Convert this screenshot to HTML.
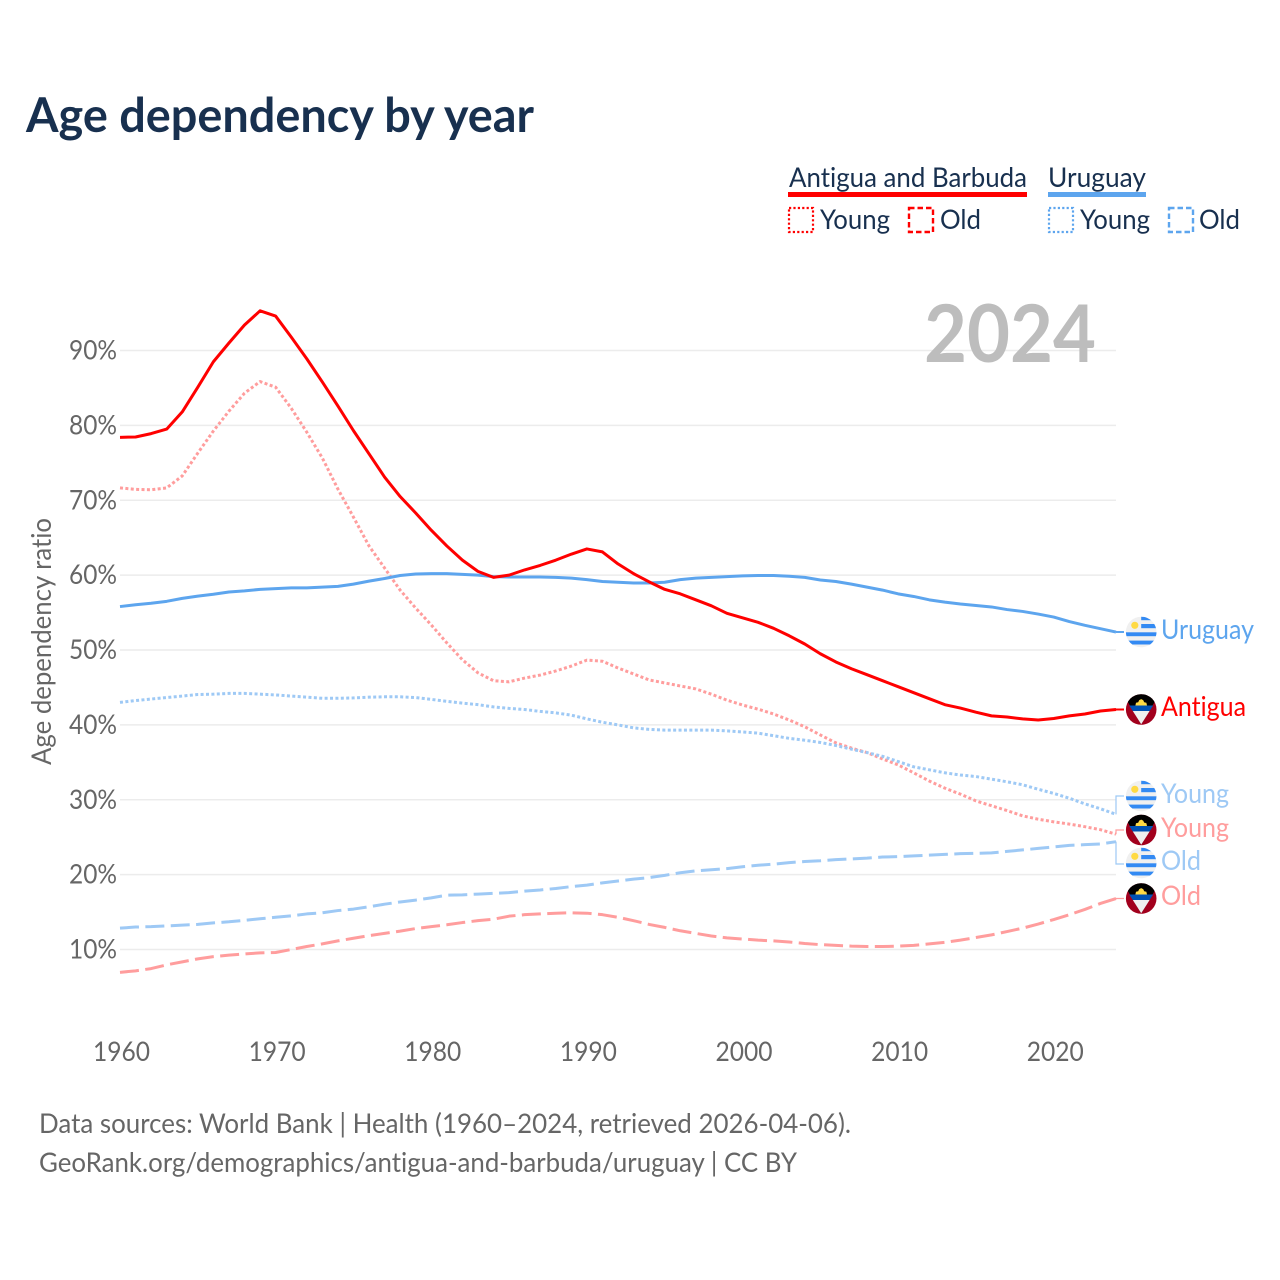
<!DOCTYPE html>
<html lang="en">
<head>
<meta charset="utf-8">
<title>Age dependency by year</title>
<style>
html,body{margin:0;padding:0;background:#fff}
svg{display:block}
text{font-family:"Lato","Carlito","Liberation Sans",sans-serif;font-variant-ligatures:none}
</style>
</head>
<body>
<svg id="chart" xmlns="http://www.w3.org/2000/svg" width="1280" height="1280" viewBox="0 0 1280 1280">
<defs>
<clipPath id="flag-clip"><circle cx="0" cy="0" r="15.3"/></clipPath>
<g id="flag-uy" clip-path="url(#flag-clip)">
<rect x="-16" y="-16" width="32" height="32" fill="#f0f0f0"/>
<rect x="0" y="-15.5" width="16" height="3.7" fill="#338af3"/>
<rect x="0" y="-8" width="16" height="4.2" fill="#338af3"/>
<rect x="-16" y="0.3" width="32" height="3.9" fill="#338af3"/>
<rect x="-16" y="8.6" width="32" height="3.9" fill="#338af3"/>
<circle cx="-6.4" cy="-6.7" r="3.6" fill="#ffda44"/>
</g>
<g id="flag-ag" clip-path="url(#flag-clip)">
<rect x="-16" y="-16" width="32" height="32" fill="#a2001d"/>
<polygon points="-16,-16 16,-16 16,-12 15.5,-11 0,14.8 -15.5,-11 -16,-12" fill="#000"/>
<polygon points="-12,-4 12,-4 8.4,1.5 -8.4,1.5" fill="#0052b4"/>
<polygon points="-8.4,1.5 8.4,1.5 0,14.8" fill="#f0f0f0"/>
<polygon points="-5.8,-4 -5.2,-6.8 -3,-7.2 -2,-9.4 0,-10.4 2,-9.4 3,-7.2 5.2,-6.8 5.8,-4" fill="#ffda44"/>
</g>
</defs>

<text x="26" y="132" font-size="48" font-weight="700" fill="#18304f" textLength="508" lengthAdjust="spacingAndGlyphs">Age dependency by year</text>

<g fill="#18304f" font-size="27">
<text x="789" y="187" textLength="238" lengthAdjust="spacingAndGlyphs">Antigua and Barbuda</text>
<rect x="788" y="192" width="239" height="5" fill="#ff0000"/>
<text x="1048" y="187" textLength="98" lengthAdjust="spacingAndGlyphs">Uruguay</text>
<rect x="1048" y="192" width="98" height="5" fill="#5da5ee"/>
<rect x="789" y="208" width="24" height="24" fill="none" stroke="#ff0000" stroke-width="2.2" stroke-dasharray="2.2 2.2"/>
<text x="820" y="229" textLength="70" lengthAdjust="spacingAndGlyphs">Young</text>
<rect x="909" y="208" width="24" height="24" fill="none" stroke="#ff0000" stroke-width="2.4" stroke-dasharray="5.5 3"/>
<text x="940" y="229" textLength="41" lengthAdjust="spacingAndGlyphs">Old</text>
<rect x="1049" y="208" width="24" height="24" fill="none" stroke="#5da5ee" stroke-width="2.2" stroke-dasharray="2.2 2.2"/>
<text x="1080" y="229" textLength="70" lengthAdjust="spacingAndGlyphs">Young</text>
<rect x="1169" y="208" width="24" height="24" fill="none" stroke="#5da5ee" stroke-width="2.4" stroke-dasharray="5.5 3"/>
<text x="1199" y="229" textLength="41" lengthAdjust="spacingAndGlyphs">Old</text>
</g>

<text transform="translate(51,765) rotate(-90)" font-size="27" fill="#666" textLength="247" lengthAdjust="spacingAndGlyphs">Age dependency ratio</text>

<g id="grid"></g>
<text x="924" y="362" font-size="80" font-weight="700" fill="#bdbdbd" textLength="172" lengthAdjust="spacingAndGlyphs">2024</text>
<g id="y-ticks"></g>
<g id="x-ticks"></g>
<g id="connectors"></g>
<g id="series"></g>

<g font-size="27">
<use href="#flag-uy" x="1141.2" y="632"/>
<text x="1161" y="639" fill="#5da5ee" textLength="93" lengthAdjust="spacingAndGlyphs">Uruguay</text>
<use href="#flag-ag" x="1141.2" y="709.5"/>
<text x="1161" y="716" fill="#ff0000" textLength="85" lengthAdjust="spacingAndGlyphs">Antigua</text>
<use href="#flag-uy" x="1141.2" y="796"/>
<text x="1161" y="803" fill="#9ec9f5" textLength="68" lengthAdjust="spacingAndGlyphs">Young</text>
<use href="#flag-ag" x="1141.2" y="830"/>
<text x="1161" y="837" fill="#ff9d9d" textLength="68" lengthAdjust="spacingAndGlyphs">Young</text>
<use href="#flag-uy" x="1141.2" y="863"/>
<text x="1161" y="870" fill="#9ec9f5" textLength="40" lengthAdjust="spacingAndGlyphs">Old</text>
<use href="#flag-ag" x="1141.2" y="898.5"/>
<text x="1161" y="905" fill="#ff9d9d" textLength="40" lengthAdjust="spacingAndGlyphs">Old</text>
</g>

<g font-size="27" fill="#666">
<text x="39" y="1133" textLength="812" lengthAdjust="spacingAndGlyphs">Data sources: World Bank | Health (1960–2024, retrieved 2026-04-06).</text>
<text x="39" y="1172" textLength="758" lengthAdjust="spacingAndGlyphs">GeoRank.org/demographics/antigua-and-barbuda/uruguay | CC BY</text>
</g>
</svg>

<script>
const firstYear = 1960;
const yTickValues = [10, 20, 30, 40, 50, 60, 70, 80, 90];
const xTickYears = [1960, 1970, 1980, 1990, 2000, 2010, 2020];

const antiguaTotal = [78.4,78.45,78.9,79.5,81.8,85.1,88.5,91.0,93.4,95.3,94.6,91.8,88.9,85.8,82.6,79.3,76.2,73.1,70.5,68.3,66.0,63.9,62.0,60.5,59.7,60.0,60.7,61.3,62.0,62.8,63.5,63.1,61.5,60.2,59.1,58.1,57.5,56.7,55.9,54.9,54.3,53.7,52.9,51.9,50.8,49.5,48.4,47.5,46.7,45.9,45.1,44.3,43.5,42.7,42.25,41.7,41.2,41.05,40.8,40.65,40.85,41.2,41.45,41.85,42.05];
const uruguayTotal = [55.8,56.05,56.25,56.5,56.9,57.2,57.45,57.75,57.9,58.1,58.2,58.3,58.3,58.4,58.5,58.8,59.2,59.55,59.95,60.15,60.2,60.2,60.1,60.0,59.8,59.75,59.75,59.75,59.7,59.6,59.4,59.15,59.05,58.95,58.95,59.05,59.4,59.6,59.7,59.8,59.9,59.95,59.95,59.85,59.7,59.35,59.15,58.8,58.4,58.0,57.5,57.15,56.7,56.4,56.15,55.95,55.75,55.4,55.15,54.8,54.4,53.8,53.3,52.85,52.4];
const antiguaYoung = [71.65,71.45,71.4,71.65,73.25,76.3,79.25,81.9,84.3,85.85,85.1,82.3,79.1,75.65,71.5,67.75,63.9,60.95,58.0,55.6,53.35,50.95,48.7,46.95,45.9,45.75,46.25,46.65,47.2,47.85,48.65,48.5,47.6,46.8,46.0,45.6,45.2,44.8,44.1,43.3,42.65,42.1,41.45,40.65,39.75,38.65,37.6,36.9,36.3,35.45,34.65,33.6,32.5,31.55,30.75,29.85,29.2,28.55,27.85,27.4,27.05,26.75,26.4,26.0,25.4];
const uruguayYoung = [43.0,43.25,43.45,43.65,43.85,44.05,44.1,44.2,44.2,44.1,44.0,43.85,43.7,43.55,43.55,43.6,43.7,43.75,43.75,43.65,43.4,43.15,42.9,42.7,42.4,42.2,42.05,41.8,41.6,41.3,40.8,40.35,40.0,39.6,39.4,39.3,39.3,39.3,39.3,39.2,39.05,38.9,38.55,38.2,37.95,37.65,37.25,36.75,36.3,35.8,35.1,34.4,34.0,33.6,33.3,33.1,32.75,32.4,32.0,31.4,30.85,30.2,29.45,28.8,28.05];
const antiguaOld = [6.95,7.15,7.45,7.95,8.35,8.75,9.05,9.25,9.4,9.55,9.6,10.0,10.4,10.75,11.15,11.5,11.85,12.15,12.45,12.8,13.05,13.3,13.6,13.85,14.05,14.45,14.65,14.75,14.85,14.9,14.85,14.65,14.3,13.85,13.35,12.95,12.5,12.15,11.8,11.55,11.4,11.25,11.15,11.0,10.8,10.65,10.55,10.45,10.4,10.4,10.45,10.55,10.75,10.95,11.25,11.6,11.95,12.4,12.85,13.4,14.0,14.65,15.35,16.15,16.8];
const uruguayOld = [12.85,13.0,13.05,13.15,13.25,13.35,13.55,13.7,13.9,14.1,14.3,14.5,14.75,14.9,15.2,15.4,15.7,16.05,16.35,16.6,16.9,17.25,17.3,17.4,17.5,17.6,17.8,17.95,18.15,18.4,18.6,18.9,19.15,19.4,19.6,19.9,20.25,20.5,20.65,20.8,21.05,21.25,21.4,21.6,21.75,21.85,22.0,22.1,22.2,22.35,22.4,22.5,22.6,22.7,22.8,22.85,22.9,23.1,23.3,23.5,23.7,23.9,24.0,24.1,24.4];

const NS = 'http://www.w3.org/2000/svg';
const xScale = function (year) { return 120 + (year - firstYear) * (996 / 64); };
const yScale = function (value) { return 350.5 + (90 - value) * 7.4875; };

const gridLayer = document.getElementById('grid');
const yTickLayer = document.getElementById('y-ticks');
const xTickLayer = document.getElementById('x-ticks');
const seriesLayer = document.getElementById('series');
const connectorLayer = document.getElementById('connectors');

yTickValues.forEach(function (value) {
  const line = document.createElementNS(NS, 'line');
  
  
  line.setAttribute('x1', 120);
  line.setAttribute('x2', 1116);
  line.setAttribute('y1', yScale(value));
  line.setAttribute('y2', yScale(value));
  line.setAttribute('stroke', '#ececec');
  line.setAttribute('stroke-width', 1.5);
  gridLayer.appendChild(line);

  const label = document.createElementNS(NS, 'text');
  
  
  label.setAttribute('x', 69);
  label.setAttribute('y', yScale(value) + 9);
  label.setAttribute('font-size', 27);
  label.setAttribute('fill', '#666');
  label.setAttribute('textLength', 48);
  label.setAttribute('lengthAdjust', 'spacingAndGlyphs');
  label.textContent = value + '%';
  yTickLayer.appendChild(label);
});

xTickYears.forEach(function (year) {
  const label = document.createElementNS(NS, 'text');
  
  
  label.setAttribute('x', xScale(year) + 1.5 - 28.5);
  label.setAttribute('y', 1061);
  label.setAttribute('font-size', 27);
  label.setAttribute('fill', '#666');
  label.setAttribute('textLength', 57);
  label.setAttribute('lengthAdjust', 'spacingAndGlyphs');
  label.textContent = String(year);
  xTickLayer.appendChild(label);
});

function drawSeries(values, name, color, dash) {
  const path = document.createElementNS(NS, 'path');
  
  
  const d = values.map(function (value, i) {
    return (i ? 'L' : 'M') + xScale(firstYear + i).toFixed(2) + ' ' + yScale(value).toFixed(2);
  }).join(' ');
  path.setAttribute('d', d);
  path.setAttribute('fill', 'none');
  path.setAttribute('stroke', color);
  path.setAttribute('stroke-width', 3);
  path.setAttribute('stroke-linejoin', 'round');
  if (dash) path.setAttribute('stroke-dasharray', dash);
  seriesLayer.appendChild(path);
}

drawSeries(antiguaOld, 'antigua-old-line', '#ff9d9d', '19 6.4');
drawSeries(uruguayOld, 'uruguay-old-line', '#9ec9f5', '19 6.4');
drawSeries(antiguaYoung, 'antigua-young-line', '#ff9d9d', '3 2.4');
drawSeries(uruguayYoung, 'uruguay-young-line', '#9ec9f5', '3 2.4');
drawSeries(uruguayTotal, 'uruguay-total-line', '#5da5ee', '');
drawSeries(antiguaTotal, 'antigua-total-line', '#ff0000', '');

function drawConnector(startValue, labelY, name, color, width) {
  const y0 = yScale(startValue);
  const path = document.createElementNS(NS, 'path');
  
  
  path.setAttribute('d', 'M1116 ' + y0.toFixed(2) + ' V' + labelY + ' H1124');
  path.setAttribute('fill', 'none');
  path.setAttribute('stroke', color);
  path.setAttribute('stroke-width', width);
  connectorLayer.appendChild(path);
}

drawConnector(uruguayTotal[64], 632, 'connector-uruguay', '#5da5ee', 2);
drawConnector(antiguaTotal[64], 709.5, 'connector-antigua', '#ff0000', 2);
drawConnector(uruguayYoung[64], 796, 'connector-uruguay-young', '#9ec9f5', 1.2);
drawConnector(antiguaYoung[64], 830, 'connector-antigua-young', '#ff9d9d', 1.2);
drawConnector(uruguayOld[64], 864, 'connector-uruguay-old', '#9ec9f5', 1.2);
drawConnector(antiguaOld[64], 898.5, 'connector-antigua-old', '#ff9d9d', 1.2);
</script>
</body>
</html>
